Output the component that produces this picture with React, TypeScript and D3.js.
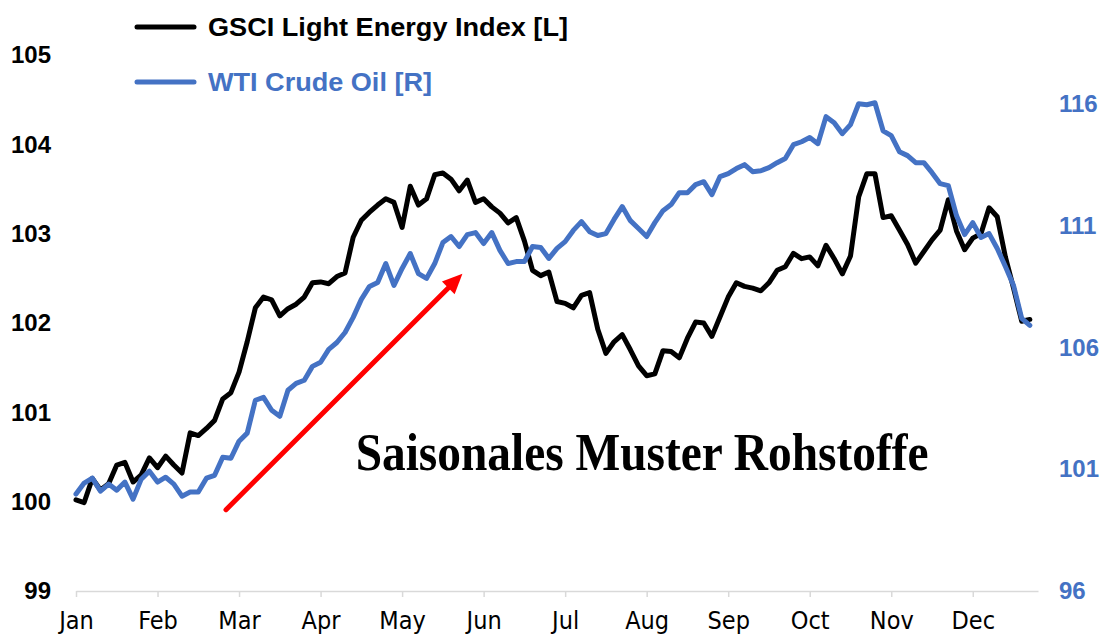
import { useRef, useEffect } from 'react';
import * as d3 from 'd3';

// months along the x axis, one observation every STEP months
const months = ['Jan', 'Feb', 'Mar', 'Apr', 'May', 'Jun', 'Jul', 'Aug', 'Sep', 'Oct', 'Nov', 'Dec'];
const STEP = 0.1;

const leftTicks = [99, 100, 101, 102, 103, 104, 105];
const rightTicks = [96, 101, 106, 111, 116];

// GSCI Light Energy Index (left axis)
const gsci = [
  100.02, 99.99, 100.26, 100.13, 100.2, 100.41, 100.44, 100.22, 100.3, 100.49,
  100.38, 100.51, 100.41, 100.32, 100.77, 100.74, 100.82, 100.91, 101.15, 101.22,
  101.45, 101.79, 102.17, 102.29, 102.26, 102.08, 102.16, 102.21, 102.29, 102.45,
  102.46, 102.44, 102.52, 102.56, 102.96, 103.15, 103.24, 103.32, 103.39, 103.35,
  103.07, 103.53, 103.32, 103.39, 103.66, 103.68, 103.61, 103.48, 103.6, 103.35,
  103.39, 103.3, 103.23, 103.12, 103.18, 102.92, 102.59, 102.53, 102.57, 102.24,
  102.22, 102.17, 102.31, 102.34, 101.93, 101.66, 101.79, 101.87, 101.7, 101.52,
  101.41, 101.43, 101.69, 101.68, 101.61, 101.83, 102.01, 102.0, 101.85, 102.07,
  102.29, 102.45, 102.41, 102.39, 102.36, 102.45, 102.59, 102.63, 102.78, 102.72,
  102.74, 102.64, 102.87, 102.72, 102.55, 102.75, 103.41, 103.67, 103.67, 103.18,
  103.2, 103.04, 102.88, 102.67, 102.8, 102.93, 103.04, 103.38, 103.03, 102.82,
  102.95, 103.0, 103.29, 103.19, 102.74, 102.39, 102.02, 102.04,
];

// WTI Crude Oil (right axis)
const wti = [
  99.98, 100.43, 100.63, 100.1, 100.39, 100.14, 100.47, 99.77, 100.59, 100.92,
  100.47, 100.67, 100.39, 99.89, 100.06, 100.06, 100.63, 100.75, 101.49, 101.45,
  102.15, 102.48, 103.83, 103.95, 103.42, 103.17, 104.24, 104.52, 104.65, 105.22,
  105.39, 105.92, 106.2, 106.61, 107.23, 107.97, 108.5, 108.66, 109.44, 108.54,
  109.24, 109.85, 109.03, 108.83, 109.44, 110.3, 110.55, 110.14, 110.63, 110.71,
  110.26, 110.71, 109.98, 109.44, 109.52, 109.52, 110.14, 110.1, 109.65, 110.06,
  110.34, 110.8, 111.16, 110.75, 110.59, 110.67, 111.25, 111.78, 111.2, 110.88,
  110.55, 111.12, 111.61, 111.86, 112.35, 112.35, 112.68, 112.8, 112.27, 113.01,
  113.13, 113.34, 113.5, 113.21, 113.25, 113.38, 113.58, 113.75, 114.32, 114.44,
  114.61, 114.36, 115.47, 115.22, 114.77, 115.14, 116.0, 115.96, 116.04, 114.89,
  114.69, 114.03, 113.87, 113.58, 113.58, 113.17, 112.72, 112.64, 111.41, 110.63,
  111.12, 110.51, 110.67, 110.06, 109.32, 108.54, 107.19, 106.9,
];

const BLUE = '#4472C4';
const SANS = "'Liberation Sans', Arial, sans-serif";

const App = () => {
  const svgRef = useRef<SVGSVGElement | null>(null);
  const width = 1104;
  const height = 635;

  useEffect(() => {
    const svg = d3.select(svgRef.current);
    svg.selectAll('*').remove();

    const x = d3.scaleLinear().domain([0, 11.8]).range([76, 1038]);
    const yL = d3.scaleLinear().domain([99, 105]).range([591, 55]);
    const yR = d3.scaleLinear().domain([96, 118]).range([591, 55]);

    // bottom axis
    const xAxis = svg.append('g')
      .attr('transform', `translate(0,${yL(99)})`)
      .call(d3.axisBottom(x)
        .tickValues(d3.range(12))
        .tickFormat(i => months[i as number])
        .tickSize(6)
        .tickSizeOuter(0));
    xAxis.select('.domain').attr('stroke', '#d9d9d9').attr('stroke-width', 1.5);
    xAxis.selectAll('.tick line').attr('stroke', '#d9d9d9').attr('stroke-width', 1.5);
    xAxis.selectAll('text')
      .attr('y', 0)
      .attr('dy', '38px')
      .attr('fill', '#000')
      .style('font-family', "'Liberation Sans Narrow', 'Arial Narrow', 'DejaVu Sans Condensed', sans-serif")
      .style('font-size', '25px');

    // left axis
    const left = svg.append('g')
      .attr('transform', 'translate(51,0)')
      .call(d3.axisLeft(yL).tickValues(leftTicks).tickSize(0).tickPadding(0).tickFormat(d3.format('d')));
    left.select('.domain').remove();
    left.selectAll('text')
      .attr('fill', '#000')
      .style('font-family', SANS)
      .style('font-weight', 'bold')
      .style('font-size', '24px');

    // right axis
    const right = svg.append('g')
      .attr('transform', 'translate(1059,0)')
      .call(d3.axisRight(yR).tickValues(rightTicks).tickSize(0).tickPadding(0).tickFormat(d3.format('d')));
    right.select('.domain').remove();
    right.selectAll('text')
      .attr('fill', BLUE)
      .style('font-family', SANS)
      .style('font-weight', 'bold')
      .style('font-size', '24px');

    const lineL = d3.line<number>().x((_, i) => x(i * STEP)).y(d => yL(d));
    const lineR = d3.line<number>().x((_, i) => x(i * STEP)).y(d => yR(d));

    svg.append('path')
      .datum(gsci)
      .attr('fill', 'none')
      .attr('stroke', '#000')
      .attr('stroke-width', 5)
      .attr('stroke-linejoin', 'round')
      .attr('stroke-linecap', 'round')
      .attr('d', lineL);

    svg.append('path')
      .datum(wti)
      .attr('fill', 'none')
      .attr('stroke', BLUE)
      .attr('stroke-width', 5)
      .attr('stroke-linejoin', 'round')
      .attr('stroke-linecap', 'round')
      .attr('d', lineR);

    // legend
    const legend = [
      { label: 'GSCI Light Energy Index [L]', color: '#000', y: 27, w: 360 },
      { label: 'WTI Crude Oil [R]', color: BLUE, y: 82, w: 224 },
    ];
    legend.forEach(l => {
      svg.append('line')
        .attr('x1', 137).attr('x2', 194)
        .attr('y1', l.y).attr('y2', l.y)
        .attr('stroke', l.color)
        .attr('stroke-width', 5)
        .attr('stroke-linecap', 'round');
      svg.append('text')
        .attr('x', 208)
        .attr('y', l.y + 9)
        .attr('fill', l.color)
        .attr('textLength', l.w)
        .attr('lengthAdjust', 'spacingAndGlyphs')
        .style('font-family', SANS)
        .style('font-weight', 'bold')
        .style('font-size', '25px')
        .text(l.label);
    });

    // red arrow
    const x1 = x(1.84), y1 = yL(99.91);
    const x2 = x(4.74), y2 = yL(102.55);
    const ang = Math.atan2(y2 - y1, x2 - x1);
    const headLen = 20, headW = 9;
    const bx = x2 - headLen * Math.cos(ang), by = y2 - headLen * Math.sin(ang);
    svg.append('line')
      .attr('x1', x1).attr('y1', y1)
      .attr('x2', bx).attr('y2', by)
      .attr('stroke', '#ff0000')
      .attr('stroke-width', 5)
      .attr('stroke-linecap', 'round');
    svg.append('polygon')
      .attr('points', [
        [x2, y2],
        [bx + headW * Math.sin(ang), by - headW * Math.cos(ang)],
        [bx - headW * Math.sin(ang), by + headW * Math.cos(ang)],
      ].map(p => p.join(',')).join(' '))
      .attr('fill', '#ff0000');

    svg.append('text')
      .attr('x', x(3.43))
      .attr('y', yL(100.35))
      .attr('fill', '#000')
      .attr('textLength', 573)
      .attr('lengthAdjust', 'spacingAndGlyphs')
      .style('font-family', "'Liberation Serif', 'Times New Roman', serif")
      .style('font-weight', 'bold')
      .style('font-size', '52px')
      .text('Saisonales Muster Rohstoffe');
  }, []);

  return (
    <div style={{ position: 'absolute', left: 0, top: 0, width, height, background: '#fff' }}>
      <svg ref={svgRef} width={width} height={height}></svg>
    </div>
  );
};

export default App;
